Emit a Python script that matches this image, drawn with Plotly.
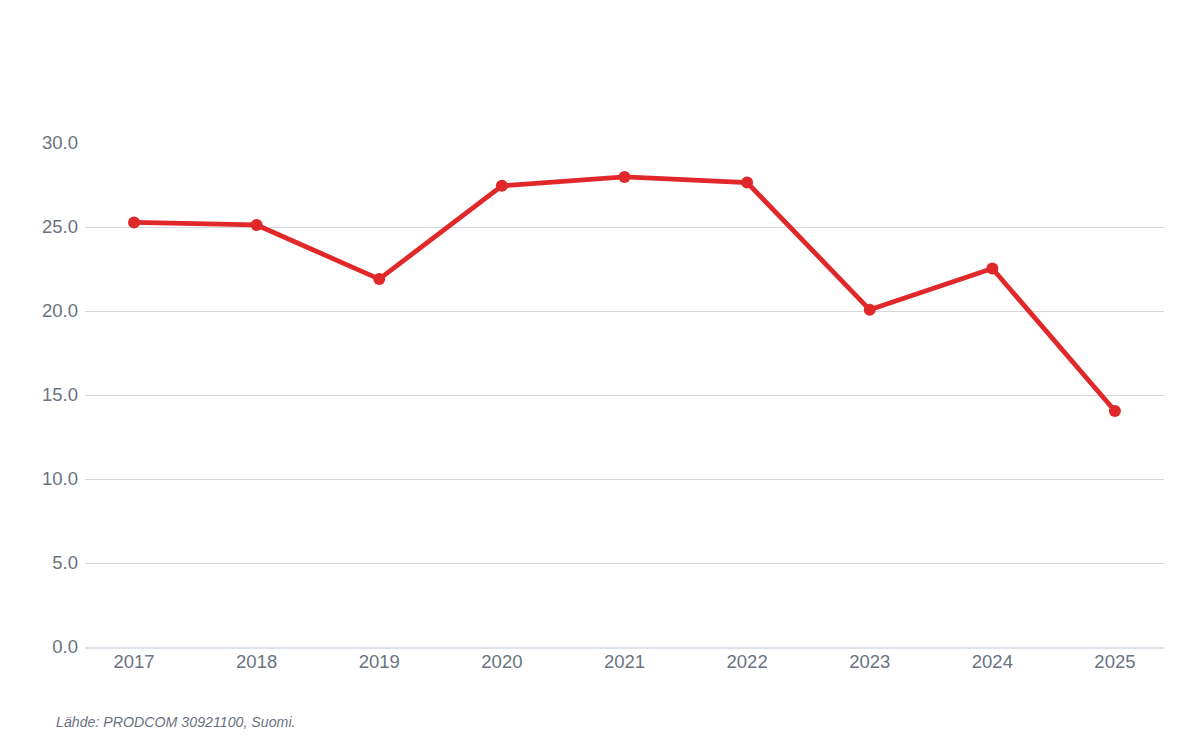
import plotly.graph_objects as go

years = ["2017", "2018", "2019", "2020", "2021", "2022", "2023", "2024", "2025"]
values = [25.27, 25.12, 21.9, 27.45, 27.98, 27.65, 20.07, 22.53, 14.05]
y_ticks = [0, 5, 10, 15, 20, 25, 30]
source_text = "Lähde: PRODCOM 30921100, Suomi."

fig = go.Figure()
fig.add_trace(go.Scatter(
    x=years, y=values, mode="lines+markers",
    line=dict(color="#e0282a", width=4.8),
    marker=dict(color="#e0282a", size=12),
    hoverinfo="x+y",
))

fig.update_layout(
    width=1200, height=744,
    margin=dict(l=77, r=44, t=135, b=105),
    paper_bgcolor="white", plot_bgcolor="white",
    showlegend=False,
    font=dict(family="Liberation Sans, Arial, sans-serif", color="#6b7280", size=18.5),
    xaxis=dict(
        type="category", range=[-0.4, 8.4],
        showgrid=False, showline=True, linecolor="#dde3ea", linewidth=1.5,
        ticks="", ticklabelstandoff=-3, tickfont=dict(size=18.5, color="#6b7280"),
    ),
    yaxis=dict(
        range=[0, 30], tickvals=y_ticks,
        ticktext=[f"{v:.1f}" for v in y_ticks],
        showgrid=True, gridcolor="#d6d6d6", gridwidth=1.3,
        zeroline=False, ticks="", ticklabelstandoff=6,
        tickfont=dict(size=18.5, color="#6b7280"),
    ),
    annotations=[dict(
        text=source_text, xref="paper", yref="paper",
        x=-0.0287, y=-0.128, xanchor="left", yanchor="top", showarrow=False,
        font=dict(size=14.2, color="#6b7280", family="Liberation Sans, Arial, sans-serif"),
    )],
)
fig.update_annotations(font_style="italic")

fig.write_html("out.html")
